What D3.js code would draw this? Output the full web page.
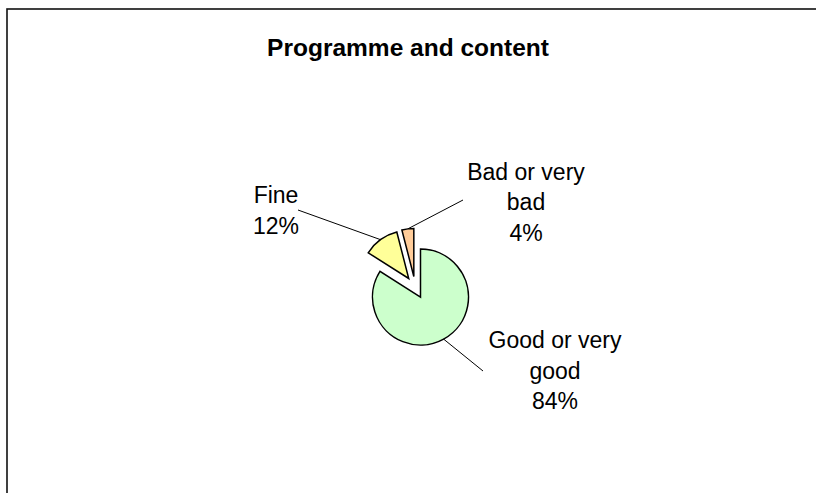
<!DOCTYPE html>
<html>
<head>
<meta charset="utf-8">
<script src="https://cdn.jsdelivr.net/npm/d3@7"></script>
<style>
  html, body { margin: 0; padding: 0; background: #fff; }
  svg { display: block; }
  text { font-family: "Liberation Sans", Arial, sans-serif; fill: #000; }
</style>
</head>
<body>
<svg id="chart" width="816" height="493"></svg>
<script>
// ---- data ----
const title = "Programme and content";
const categories = ["Good or very good", "Fine", "Bad or very bad"];
const values = [84, 12, 4];
const labelLines = [["Good or very", "good"], ["Fine"], ["Bad or very", "bad"]];
const colors = ["#CCFFCC", "#FFFF99", "#FFCC99"];

// ---- layout ----
const W = 816, H = 493;
const cx = 415.2, cy = 287.4, R = 48, explode = 11;
const labelPos = [
  { x: 555, y: 348, lx: 483, ly: 371 },
  { x: 276, y: 203, lx: 298, ly: 210 },
  { x: 526, y: 179.5, lx: 463, ly: 200 }
];
const lineH = 30.5;

const svg = d3.select("#chart");

// frame
svg.append("rect")
  .attr("x", 7).attr("y", 9)
  .attr("width", W + 50).attr("height", H + 50)
  .attr("fill", "none").attr("stroke", "#111").attr("stroke-width", 1.6);

svg.append("text")
  .attr("x", 408).attr("y", 56)
  .attr("text-anchor", "middle")
  .attr("font-size", 24.5).attr("font-weight", "bold")
  .text(title);

const total = d3.sum(values);
const pie = d3.pie().sort(null).value(d => d)(values);
const arc = d3.arc().innerRadius(0).outerRadius(R);

const g = svg.append("g").attr("transform", `translate(${cx},${cy})`);

pie.forEach((p, i) => {
  const mid = (p.startAngle + p.endAngle) / 2;
  const dx = Math.sin(mid) * explode, dy = -Math.cos(mid) * explode;
  g.append("path")
    .attr("d", arc(p))
    .attr("transform", `translate(${dx},${dy})`)
    .attr("fill", colors[i])
    .attr("stroke", "#000")
    .attr("stroke-width", 1.5)
    .attr("stroke-linejoin", "miter");

  // leader line from outer arc midpoint to label
  const sx = cx + dx + Math.sin(mid) * R;
  const sy = cy + dy - Math.cos(mid) * R;
  const lp = labelPos[i];
  svg.append("line")
    .attr("x1", sx).attr("y1", sy)
    .attr("x2", lp.lx).attr("y2", lp.ly)
    .attr("stroke", "#000").attr("stroke-width", 1);

  const lines = labelLines[i].concat([Math.round(values[i] / total * 100) + "%"]);
  const t = svg.append("text")
    .attr("text-anchor", "middle")
    .attr("font-size", 23);
  lines.forEach((s, k) => {
    t.append("tspan")
      .attr("x", lp.x)
      .attr("y", lp.y + k * lineH)
      .text(s);
  });
});
</script>
</body>
</html>
